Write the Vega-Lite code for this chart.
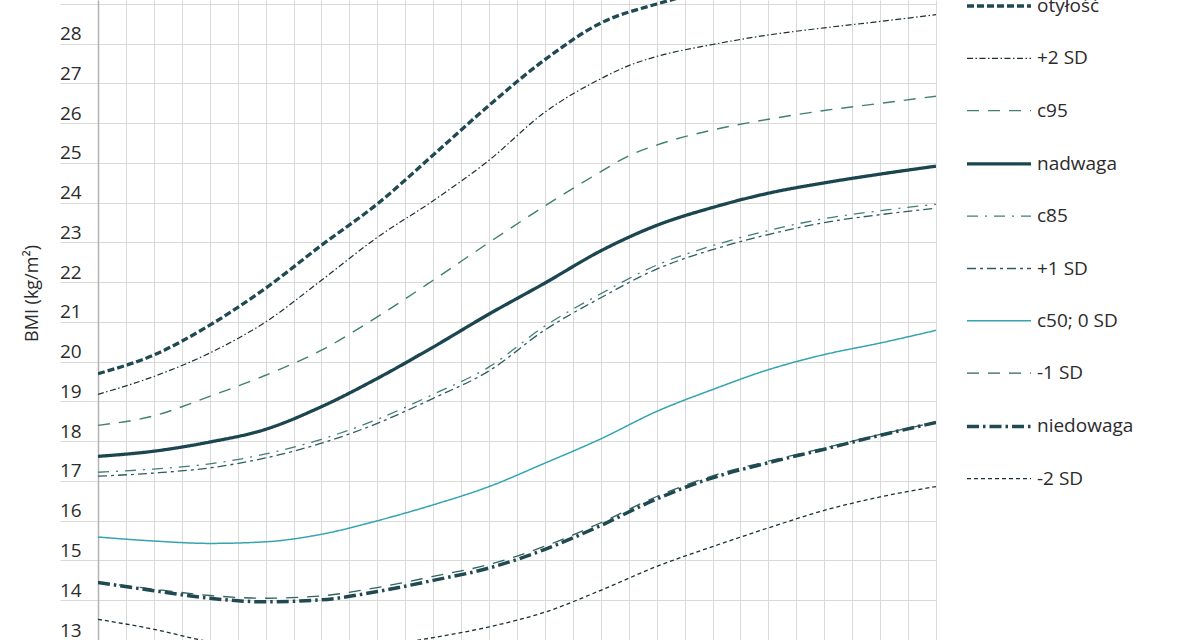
{
  "$schema": "https://vega.github.io/schema/vega-lite/v6.json",
  "width": 838,
  "height": 640,
  "autosize": {"type": "none"},
  "padding": {"left": 98, "top": 0, "right": 264, "bottom": 0},
  "background": "white",
  "config": {
    "view": {"stroke": null},
    "font": "Open Sans"
  },
  "data": {
    "values": [
      {"s": "otyłość", "age": 3, "bmi": 19.70}, {"s": "otyłość", "age": 4, "bmi": 20.17}, {"s": "otyłość", "age": 5, "bmi": 20.92},
      {"s": "otyłość", "age": 6, "bmi": 21.85}, {"s": "otyłość", "age": 7, "bmi": 22.93}, {"s": "otyłość", "age": 8, "bmi": 23.97},
      {"s": "otyłość", "age": 9, "bmi": 25.2}, {"s": "otyłość", "age": 10, "bmi": 26.45}, {"s": "otyłość", "age": 11, "bmi": 27.6},
      {"s": "otyłość", "age": 12, "bmi": 28.52}, {"s": "otyłość", "age": 13, "bmi": 29.0}, {"s": "otyłość", "age": 14, "bmi": 29.35},
      {"s": "otyłość", "age": 15, "bmi": 29.6}, {"s": "otyłość", "age": 16, "bmi": 29.8}, {"s": "otyłość", "age": 17, "bmi": 29.9},
      {"s": "otyłość", "age": 18, "bmi": 30.0},

      {"s": "+2 SD", "age": 3, "bmi": 19.18}, {"s": "+2 SD", "age": 4, "bmi": 19.63}, {"s": "+2 SD", "age": 5, "bmi": 20.22},
      {"s": "+2 SD", "age": 6, "bmi": 21.0}, {"s": "+2 SD", "age": 7, "bmi": 22.05}, {"s": "+2 SD", "age": 8, "bmi": 23.13},
      {"s": "+2 SD", "age": 9, "bmi": 24.05}, {"s": "+2 SD", "age": 10, "bmi": 25.07}, {"s": "+2 SD", "age": 11, "bmi": 26.28},
      {"s": "+2 SD", "age": 12, "bmi": 27.12}, {"s": "+2 SD", "age": 12.5, "bmi": 27.45}, {"s": "+2 SD", "age": 13, "bmi": 27.68},
      {"s": "+2 SD", "age": 14, "bmi": 27.98},
      {"s": "+2 SD", "age": 15, "bmi": 28.22}, {"s": "+2 SD", "age": 16, "bmi": 28.4}, {"s": "+2 SD", "age": 17, "bmi": 28.56},
      {"s": "+2 SD", "age": 18, "bmi": 28.73},

      {"s": "c95", "age": 3, "bmi": 18.40}, {"s": "c95", "age": 4, "bmi": 18.64}, {"s": "c95", "age": 5, "bmi": 19.13},
      {"s": "c95", "age": 6, "bmi": 19.66}, {"s": "c95", "age": 7, "bmi": 20.29}, {"s": "c95", "age": 8, "bmi": 21.13},
      {"s": "c95", "age": 9, "bmi": 22.05}, {"s": "c95", "age": 10, "bmi": 23.0}, {"s": "c95", "age": 11, "bmi": 23.92},
      {"s": "c95", "age": 12, "bmi": 24.78}, {"s": "c95", "age": 12.5, "bmi": 25.18}, {"s": "c95", "age": 13, "bmi": 25.45},
      {"s": "c95", "age": 14, "bmi": 25.83},
      {"s": "c95", "age": 15, "bmi": 26.1}, {"s": "c95", "age": 16, "bmi": 26.32}, {"s": "c95", "age": 17, "bmi": 26.5},
      {"s": "c95", "age": 18, "bmi": 26.68},

      {"s": "nadwaga", "age": 3, "bmi": 17.62}, {"s": "nadwaga", "age": 4, "bmi": 17.75}, {"s": "nadwaga", "age": 5, "bmi": 17.98},
      {"s": "nadwaga", "age": 6, "bmi": 18.30}, {"s": "nadwaga", "age": 7, "bmi": 18.87}, {"s": "nadwaga", "age": 8, "bmi": 19.58},
      {"s": "nadwaga", "age": 9, "bmi": 20.37}, {"s": "nadwaga", "age": 10, "bmi": 21.2}, {"s": "nadwaga", "age": 11, "bmi": 21.98},
      {"s": "nadwaga", "age": 12, "bmi": 22.79}, {"s": "nadwaga", "age": 13, "bmi": 23.43}, {"s": "nadwaga", "age": 14, "bmi": 23.88},
      {"s": "nadwaga", "age": 15, "bmi": 24.24}, {"s": "nadwaga", "age": 16, "bmi": 24.5}, {"s": "nadwaga", "age": 17, "bmi": 24.72},
      {"s": "nadwaga", "age": 18, "bmi": 24.92},

      {"s": "c85", "age": 3, "bmi": 17.22}, {"s": "c85", "age": 4, "bmi": 17.3}, {"s": "c85", "age": 5, "bmi": 17.43},
      {"s": "c85", "age": 6, "bmi": 17.68}, {"s": "c85", "age": 7, "bmi": 18.05}, {"s": "c85", "age": 8, "bmi": 18.55},
      {"s": "c85", "age": 9, "bmi": 19.18}, {"s": "c85", "age": 10, "bmi": 19.87}, {"s": "c85", "age": 11, "bmi": 20.9},
      {"s": "c85", "age": 12, "bmi": 21.71}, {"s": "c85", "age": 13, "bmi": 22.43}, {"s": "c85", "age": 14, "bmi": 22.92},
      {"s": "c85", "age": 15, "bmi": 23.3}, {"s": "c85", "age": 16, "bmi": 23.6}, {"s": "c85", "age": 17, "bmi": 23.8},
      {"s": "c85", "age": 18, "bmi": 23.96},

      {"s": "+1 SD", "age": 3, "bmi": 17.12}, {"s": "+1 SD", "age": 4, "bmi": 17.2}, {"s": "+1 SD", "age": 5, "bmi": 17.33},
      {"s": "+1 SD", "age": 6, "bmi": 17.58}, {"s": "+1 SD", "age": 7, "bmi": 17.95}, {"s": "+1 SD", "age": 8, "bmi": 18.45},
      {"s": "+1 SD", "age": 9, "bmi": 19.08}, {"s": "+1 SD", "age": 10, "bmi": 19.77}, {"s": "+1 SD", "age": 11, "bmi": 20.8},
      {"s": "+1 SD", "age": 12, "bmi": 21.61}, {"s": "+1 SD", "age": 13, "bmi": 22.33}, {"s": "+1 SD", "age": 14, "bmi": 22.82},
      {"s": "+1 SD", "age": 15, "bmi": 23.2}, {"s": "+1 SD", "age": 16, "bmi": 23.5}, {"s": "+1 SD", "age": 17, "bmi": 23.7},
      {"s": "+1 SD", "age": 18, "bmi": 23.86},

      {"s": "c50; 0 SD", "age": 3, "bmi": 15.59}, {"s": "c50; 0 SD", "age": 4, "bmi": 15.49}, {"s": "c50; 0 SD", "age": 5, "bmi": 15.43},
      {"s": "c50; 0 SD", "age": 6, "bmi": 15.47}, {"s": "c50; 0 SD", "age": 7, "bmi": 15.66}, {"s": "c50; 0 SD", "age": 8, "bmi": 16.0},
      {"s": "c50; 0 SD", "age": 9, "bmi": 16.4}, {"s": "c50; 0 SD", "age": 10, "bmi": 16.86}, {"s": "c50; 0 SD", "age": 11, "bmi": 17.45},
      {"s": "c50; 0 SD", "age": 12, "bmi": 18.06}, {"s": "c50; 0 SD", "age": 13, "bmi": 18.75}, {"s": "c50; 0 SD", "age": 14, "bmi": 19.3},
      {"s": "c50; 0 SD", "age": 15, "bmi": 19.8}, {"s": "c50; 0 SD", "age": 16, "bmi": 20.18}, {"s": "c50; 0 SD", "age": 17, "bmi": 20.47},
      {"s": "c50; 0 SD", "age": 18, "bmi": 20.79},

      {"s": "-1 SD", "age": 3, "bmi": 14.45}, {"s": "-1 SD", "age": 4, "bmi": 14.28}, {"s": "-1 SD", "age": 5, "bmi": 14.12},
      {"s": "-1 SD", "age": 6, "bmi": 14.05}, {"s": "-1 SD", "age": 7, "bmi": 14.11}, {"s": "-1 SD", "age": 8, "bmi": 14.32},
      {"s": "-1 SD", "age": 9, "bmi": 14.6}, {"s": "-1 SD", "age": 10, "bmi": 14.9}, {"s": "-1 SD", "age": 11, "bmi": 15.36},
      {"s": "-1 SD", "age": 12, "bmi": 15.95}, {"s": "-1 SD", "age": 13, "bmi": 16.61}, {"s": "-1 SD", "age": 14, "bmi": 17.13},
      {"s": "-1 SD", "age": 15, "bmi": 17.5}, {"s": "-1 SD", "age": 16, "bmi": 17.83}, {"s": "-1 SD", "age": 17, "bmi": 18.17},
      {"s": "-1 SD", "age": 18, "bmi": 18.48},

      {"s": "niedowaga", "age": 3, "bmi": 14.45}, {"s": "niedowaga", "age": 4, "bmi": 14.24}, {"s": "niedowaga", "age": 5, "bmi": 14.05},
      {"s": "niedowaga", "age": 6, "bmi": 13.96}, {"s": "niedowaga", "age": 7, "bmi": 14.01}, {"s": "niedowaga", "age": 8, "bmi": 14.22},
      {"s": "niedowaga", "age": 9, "bmi": 14.5}, {"s": "niedowaga", "age": 10, "bmi": 14.81}, {"s": "niedowaga", "age": 11, "bmi": 15.28},
      {"s": "niedowaga", "age": 12, "bmi": 15.88}, {"s": "niedowaga", "age": 13, "bmi": 16.55}, {"s": "niedowaga", "age": 14, "bmi": 17.08},
      {"s": "niedowaga", "age": 15, "bmi": 17.46}, {"s": "niedowaga", "age": 16, "bmi": 17.8}, {"s": "niedowaga", "age": 17, "bmi": 18.15},
      {"s": "niedowaga", "age": 18, "bmi": 18.47},

      {"s": "-2 SD", "age": 3, "bmi": 13.52}, {"s": "-2 SD", "age": 4, "bmi": 13.27}, {"s": "-2 SD", "age": 5, "bmi": 12.96},
      {"s": "-2 SD", "age": 6, "bmi": 12.83}, {"s": "-2 SD", "age": 7, "bmi": 12.8}, {"s": "-2 SD", "age": 8, "bmi": 12.86},
      {"s": "-2 SD", "age": 9, "bmi": 13.06}, {"s": "-2 SD", "age": 10, "bmi": 13.33}, {"s": "-2 SD", "age": 11, "bmi": 13.7},
      {"s": "-2 SD", "age": 12, "bmi": 14.25}, {"s": "-2 SD", "age": 13, "bmi": 14.85}, {"s": "-2 SD", "age": 14, "bmi": 15.35},
      {"s": "-2 SD", "age": 15, "bmi": 15.82}, {"s": "-2 SD", "age": 16, "bmi": 16.26}, {"s": "-2 SD", "age": 17, "bmi": 16.6},
      {"s": "-2 SD", "age": 18, "bmi": 16.86}
    ]
  },
  "mark": {"type": "line", "interpolate": "monotone", "clip": true},
  "encoding": {
    "x": {
      "field": "age",
      "type": "quantitative",
      "scale": {"domain": [3, 18], "nice": false, "zero": false},
      "axis": {
        "title": null,
        "labels": false,
        "ticks": false,
        "domain": false,
        "grid": true,
        "gridColor": "#d9d9d9",
        "gridWidth": 1,
        "values": [3, 3.5, 4, 4.5, 5, 5.5, 6, 6.5, 7, 7.5, 8, 8.5, 9, 9.5, 10, 10.5, 11, 11.5, 12, 12.5, 13, 13.5, 14, 14.5, 15, 15.5, 16, 16.5, 17, 17.5, 18]
      }
    },
    "y": {
      "field": "bmi",
      "type": "quantitative",
      "scale": {"domain": [13, 29.1], "nice": false, "zero": false},
      "axis": {
        "title": "BMI (kg/m²)",
        "titleFont": "Open Sans",
        "titleFontSize": 18,
        "titleFontWeight": "normal",
        "titleColor": "#2b2b2b",
        "titleAngle": -90,
        "titleAlign": "center",
        "titleBaseline": "middle",
        "titleX": -66,
        "titleY": 293,
        "values": [13, 14, 15, 16, 17, 18, 19, 20, 21, 22, 23, 24, 25, 26, 27, 28, 29],
        "labelExpr": "datum.value == 29 ? '' : datum.label",
        "grid": true,
        "gridColor": "#d9d9d9",
        "gridWidth": 1,
        "tickColor": "#d9d9d9",
        "tickSize": 38,
        "tickWidth": 1,
        "domainColor": "#b3b3b3",
        "domainWidth": 1.5,
        "labelAlign": "left",
        "labelBaseline": "alphabetic",
        "labelPadding": 0.5,
        "labelOffset": -4,
        "labelFont": "Open Sans",
        "labelFontSize": 19,
        "labelColor": "#2b2b2b",
        "labelFlush": false,
        "labelOverlap": false,
        "labelBound": false
      }
    },
    "color": {
      "field": "s",
      "type": "nominal",
      "scale": {
        "domain": ["otyłość", "+2 SD", "c95", "nadwaga", "c85", "+1 SD", "c50; 0 SD", "-1 SD", "niedowaga", "-2 SD"],
        "range": ["#1f4a52", "#1e2f36", "#3f7f74", "#1b4650", "#3f7f74", "#2e5c60", "#33a4b2", "#33625f", "#1f4a52", "#1e2f36"]
      },
      "legend": {
        "orient": "none",
        "legendX": 867,
        "legendY": -28,
        "title": null,
        "symbolType": "stroke",
        "symbolSize": 4096,
        "labelFont": "Open Sans",
        "labelFontSize": 19,
        "labelColor": "#2b2b2b",
        "labelOffset": 4,
        "rowPadding": 9.3
      }
    },
    "strokeDash": {
      "field": "s",
      "type": "nominal",
      "scale": {
        "domain": ["otyłość", "+2 SD", "c95", "nadwaga", "c85", "+1 SD", "c50; 0 SD", "-1 SD", "niedowaga", "-2 SD"],
        "range": [[7, 3], [6, 2.5, 1.5, 2.5], [12, 9], [1, 0], [11, 7, 2, 7], [9, 4, 3, 4], [1, 0], [12, 9], [12, 4, 2.5, 4], [4, 3]]
      },
      "legend": {
        "orient": "none",
        "legendX": 867,
        "legendY": -28,
        "title": null,
        "symbolType": "stroke",
        "symbolSize": 4096,
        "labelFont": "Open Sans",
        "labelFontSize": 19,
        "labelColor": "#2b2b2b",
        "labelOffset": 4,
        "rowPadding": 9.3
      }
    },
    "strokeWidth": {
      "field": "s",
      "type": "nominal",
      "scale": {
        "type": "ordinal",
        "domain": ["otyłość", "+2 SD", "c95", "nadwaga", "c85", "+1 SD", "c50; 0 SD", "-1 SD", "niedowaga", "-2 SD"],
        "range": [3.3, 1.2, 1.4, 3.3, 1.3, 1.3, 1.5, 1.3, 3.5, 1.3]
      },
      "legend": {
        "orient": "none",
        "legendX": 867,
        "legendY": -28,
        "title": null,
        "symbolType": "stroke",
        "symbolSize": 4096,
        "labelFont": "Open Sans",
        "labelFontSize": 19,
        "labelColor": "#2b2b2b",
        "labelOffset": 4,
        "rowPadding": 9.3
      }
    }
  }
}
